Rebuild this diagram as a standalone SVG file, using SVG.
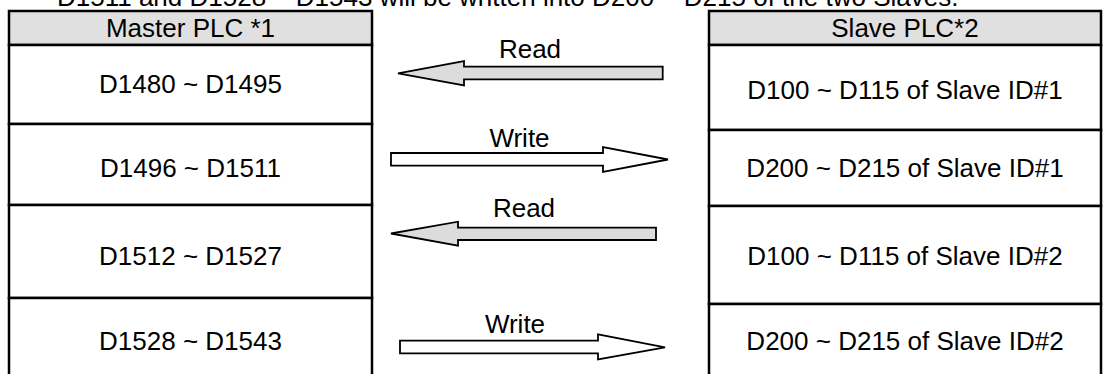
<svg xmlns="http://www.w3.org/2000/svg" width="1104" height="374" viewBox="0 0 1104 374">
<style>
.t{font-family:"Liberation Sans",Arial,sans-serif;font-size:26px;fill:#000;text-anchor:middle}
.cap{font-family:"Liberation Sans",Arial,sans-serif;font-size:26px;fill:#000}
.cell{fill:#fff;stroke:#000;stroke-width:2.5}
.hdr{fill:#e0e0e0;stroke:#000;stroke-width:2.5}
.rd{fill:#dcdcdc;stroke:#000;stroke-width:1.8;stroke-linejoin:miter}
.wr{fill:#fff;stroke:#000;stroke-width:1.8;stroke-linejoin:miter}
</style>
<rect width="1104" height="374" fill="#fff"/>
<text class="cap" x="57" y="6">D1511 and D1528 ~ D1543 will be written into D200 ~ D215 of the two Slaves.</text>

<g id="master">
  <g id="master-header"><rect class="hdr" x="9" y="11" width="363" height="34"/><text class="t" x="190.5" y="37">Master PLC *1</text></g>
  <g id="m1"><rect class="cell" x="9" y="45" width="363" height="79"/><text class="t" x="190.5" y="93">D1480 ~ D1495</text></g>
  <g id="m2"><rect class="cell" x="9" y="124" width="363" height="81"/><text class="t" x="190.5" y="177">D1496 ~ D1511</text></g>
  <g id="m3"><rect class="cell" x="9" y="205" width="363" height="93"/><text class="t" x="190.5" y="265">D1512 ~ D1527</text></g>
  <g id="m4"><rect class="cell" x="9" y="298" width="363" height="90"/><text class="t" x="190.5" y="350">D1528 ~ D1543</text></g>
</g>

<g id="slave">
  <g id="slave-header"><rect class="hdr" x="709" y="11" width="392" height="34"/><text class="t" x="905" y="37">Slave PLC*2</text></g>
  <g id="s1"><rect class="cell" x="709" y="45" width="392" height="85"/><text class="t" x="905" y="99">D100 ~ D115 of Slave ID#1</text></g>
  <g id="s2"><rect class="cell" x="709" y="130" width="392" height="76"/><text class="t" x="905" y="177">D200 ~ D215 of Slave ID#1</text></g>
  <g id="s3"><rect class="cell" x="709" y="206" width="392" height="98"/><text class="t" x="905" y="265">D100 ~ D115 of Slave ID#2</text></g>
  <g id="s4"><rect class="cell" x="709" y="304" width="392" height="84"/><text class="t" x="905" y="350">D200 ~ D215 of Slave ID#2</text></g>
</g>

<g id="connectors">
  <polygon class="rd" points="398,73.3 464,61 464,66.7 662.7,66.7 662.7,79.3 464,79.3 464,85.5"/>
  <polygon class="wr" points="391,153 603,153 603,147 668,159.5 603,172 603,165.6 391,165.6"/>
  <polygon class="rd" points="391,233.5 458,221.7 458,227.7 656,227.7 656,240 458,240 458,245.7"/>
  <polygon class="wr" points="400,340.7 598,340.7 598,334.3 665,347.3 598,359.3 598,353.3 400,353.3"/>
  <text class="t" x="530" y="58">Read</text>
  <text class="t" x="519.5" y="147">Write</text>
  <text class="t" x="524" y="217">Read</text>
  <text class="t" x="515" y="333">Write</text>
</g>
</svg>
